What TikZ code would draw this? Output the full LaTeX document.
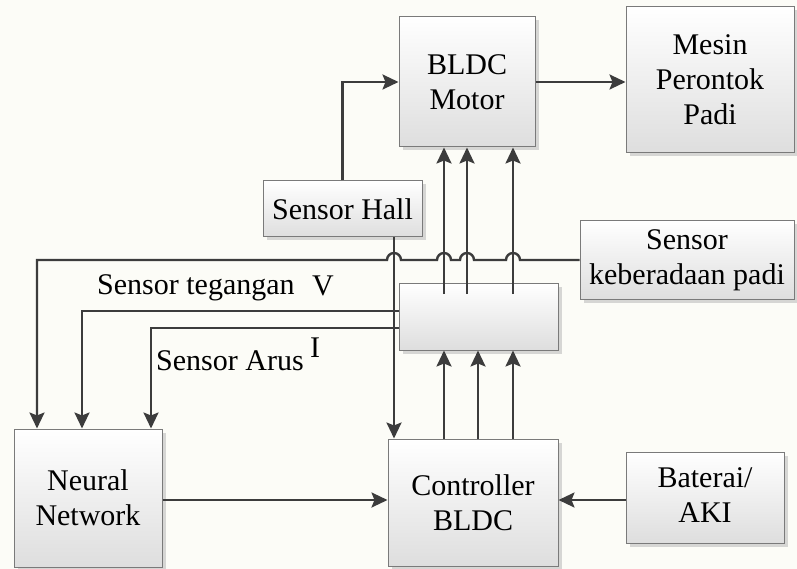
\documentclass[tikz,border=0pt]{standalone}
\usepackage{fontspec}
\setmainfont{LiberationSerif-Regular.ttf}
\usetikzlibrary{shadows,arrows.meta,calc}
\definecolor{lncol}{HTML}{3C3C3C}
\definecolor{bdcol}{HTML}{7A7A7A}
\definecolor{bgcol}{RGB}{252,252,247}
\begin{document}
\begin{tikzpicture}[x=1pt,y=-1pt,
  blk/.style={draw=bdcol, line width=1pt, top color=white, bottom color=black!13,
    drop shadow={shadow xshift=3.5pt, shadow yshift=-3.5pt, fill=black!30, opacity=0.5},
    align=center, font=\rmfamily\fontsize{30}{35}\selectfont, inner sep=0pt},
  arr/.style={draw=lncol, line width=2.4pt, -{Stealth[length=16pt,width=15pt,inset=3pt]}},
  lbl/.style={font=\rmfamily\fontsize{30}{35}\selectfont, inner sep=0pt}]
\fill[bgcol] (0,0) rectangle (797,569);
\useasboundingbox (0,0) rectangle (797,569);

\node[blk, minimum width=136pt, minimum height=130pt] (motor) at (467,82) {BLDC\\Motor};
\node[blk, minimum width=168pt, minimum height=146pt] (mesin) at (710,80) {Mesin\\Perontok\\Padi};
\node[blk, minimum width=159pt, minimum height=56pt] (hall) at (342.5,209) {Sensor Hall};
\node[blk, minimum width=214pt, minimum height=79pt] (padi) at (687,260) {Sensor\\keberadaan padi};
\node[blk, minimum width=159pt, minimum height=67pt] (inv) at (478.5,316.5) {};
\node[blk, minimum width=148pt, minimum height=138pt] (nn) at (88,498) {Neural\\Network};
\node[blk, minimum width=170pt, minimum height=127pt] (ctrl) at (473,502.5) {Controller\\BLDC};
\node[blk, minimum width=158pt, minimum height=91pt] (bat) at (705,497.5) {\raisebox{-6pt}{\begin{tabular}{@{}c@{}}Baterai/\\AKI\end{tabular}}};

\node[lbl, anchor=base west] (tv) at (97,294) {Sensor tegangan};
\node[lbl, anchor=base west] (v) at (312,295) {V};
\node[lbl, anchor=base west] (ta) at (156,370) {Sensor Arus};
\node[lbl, anchor=base west] (ii) at (310,357) {I};

% coordinates
\coordinate (t1) at (444,294);
\coordinate (t2) at (467,294);
\coordinate (t3) at (513,294);
\coordinate (b1) at (444,0);
\coordinate (b2) at (478,0);
\coordinate (b3) at (513,0);
\coordinate (hx) at (394,0);
\coordinate (vy) at (0,311);
\coordinate (ay) at (0,328);
\coordinate (nv) at (82,0);
\coordinate (na) at (151,0);
\coordinate (pk) at (37,260);

% inverter to motor
\draw[arr] (t1) -- (t1 |- motor.south);
\draw[arr] (t2) -- (t2 |- motor.south);
\draw[arr] (t3) -- (t3 |- motor.south);
% controller to inverter
\draw[arr] (b1 |- ctrl.north) -- (b1 |- inv.south);
\draw[arr] (b2 |- ctrl.north) -- (b2 |- inv.south);
\draw[arr] (b3 |- ctrl.north) -- (b3 |- inv.south);
% hall
\draw[arr] (hall.north) |- (motor.west);
\draw[arr] (hx |- hall.south) -- (hx |- ctrl.north);
% motor to mesin
\draw[arr] (motor.east) -- (motor.east -| mesin.west);
% voltage and current sensors
\draw[arr] (inv.west |- vy) -| (nv |- nn.north);
\draw[arr] (inv.west |- ay) -| (na |- nn.north);
% sensor padi with jumps
\draw[arr] (padi.west) -- (520,260) arc[start angle=0,end angle=180,radius=7pt]
  -- (474,260) arc[start angle=0,end angle=180,radius=7pt]
  -- (451,260) arc[start angle=0,end angle=180,radius=7pt]
  -- (401,260) arc[start angle=0,end angle=180,radius=7pt]
  -- (pk) -- (pk |- nn.north);
% nn to controller, battery to controller
\draw[arr] (nn.east |- 0,500) -- (ctrl.west |- 0,500);
\draw[arr] (bat.west |- 0,500) -- (ctrl.east |- 0,500);
\end{tikzpicture}
\end{document}
